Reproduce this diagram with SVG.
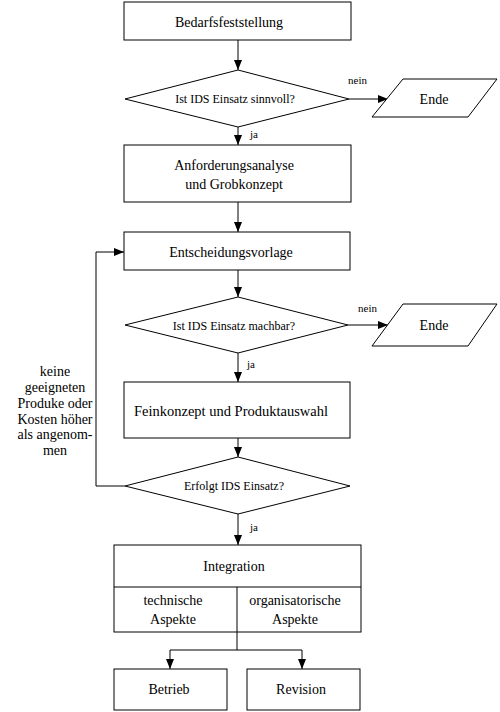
<svg xmlns="http://www.w3.org/2000/svg" width="500" height="712" viewBox="0 0 500 712">
<defs>
<marker id="arr" markerUnits="userSpaceOnUse" markerWidth="10" markerHeight="8" refX="10" refY="4" orient="auto">
<path d="M0,0 L10,4 L0,8 z" fill="#000"/>
</marker>
</defs>
<style>
.s{fill:#fff;stroke:#000;stroke-width:1}
text{font-family:'Liberation Serif','DejaVu Serif',serif;fill:#000}
.t{font-size:14px;text-anchor:middle}
.d{font-size:12px;text-anchor:middle}
.l{font-size:11px}
.c{fill:none;stroke:#000;stroke-width:1;marker-end:url(#arr)}
.n{fill:none;stroke:#000;stroke-width:1}
</style>
<rect width="500" height="712" fill="#fff"/>
<g id="connectors">
<line class="c" x1="238" y1="40" x2="238" y2="70"/>
<line class="c" x1="349" y1="99" x2="388" y2="99"/>
<line class="c" x1="238" y1="127" x2="238" y2="145"/>
<line class="c" x1="238" y1="202" x2="238" y2="232"/>
<line class="c" x1="238" y1="270" x2="238" y2="297"/>
<line class="c" x1="348" y1="325" x2="388" y2="325"/>
<line class="c" x1="238" y1="353" x2="238" y2="382"/>
<line class="c" x1="238" y1="438" x2="238" y2="457"/>
<polyline class="c" points="125,486 96,486 96,252 124,252"/>
<line class="c" x1="238" y1="514" x2="238" y2="545"/>
<polyline class="n" points="237,632 237,650"/>
<polyline class="n" points="170,650 302,650"/>
<line class="c" x1="170" y1="650" x2="170" y2="669"/>
<line class="c" x1="302" y1="650" x2="302" y2="669"/>
<text class="l" x="348" y="84" font-family="Liberation Serif, serif">nein</text>
<text class="l" x="250" y="138" font-family="Liberation Serif, serif">ja</text>
<text class="l" x="358" y="312" font-family="Liberation Serif, serif">nein</text>
<text class="l" x="247" y="368" font-family="Liberation Serif, serif">ja</text>
<text class="l" x="250" y="531" font-family="Liberation Serif, serif">ja</text>
<text class="t" x="55" y="376">keine</text>
<text class="t" x="55" y="392">geeigneten</text>
<text class="t" x="55" y="408">Produke oder</text>
<text class="t" x="55" y="424">Kosten höher</text>
<text class="t" x="55" y="439">als angenom-</text>
<text class="t" x="55" y="455">men</text>
</g>
<g id="bedarf">
<rect class="s" x="124" y="2" width="227" height="38"/>
<text class="t" x="229" y="27">Bedarfsfeststellung</text>
</g>
<g id="sinnvoll">
<polygon class="s" points="125,99 238,70 349,99 238,127"/>
<text class="d" x="235" y="103">Ist IDS Einsatz sinnvoll?</text>
</g>
<g id="ende1">
<polygon class="s" points="403,79 497,79 468,117 372,117"/>
<text class="t" x="434" y="104">Ende</text>
</g>
<g id="anforderung">
<rect class="s" x="124" y="145" width="227" height="57"/>
<text class="t" x="234" y="170">Anforderungsanalyse</text>
<text class="t" x="234" y="189">und Grobkonzept</text>
</g>
<g id="entscheidung">
<rect class="s" x="124" y="232" width="226" height="38"/>
<text class="t" x="231" y="257">Entscheidungsvorlage</text>
</g>
<g id="machbar">
<polygon class="s" points="125,325 238,297 348,325 238,353"/>
<text class="d" x="234" y="330">Ist IDS Einsatz machbar?</text>
</g>
<g id="ende2">
<polygon class="s" points="403,304 497,304 468,346 372,346"/>
<text class="t" x="434" y="330">Ende</text>
</g>
<g id="feinkonzept">
<rect class="s" x="124" y="382" width="226" height="56"/>
<text class="t" x="231" y="416" style="font-size:14.5px">Feinkonzept und Produktauswahl</text>
</g>
<g id="erfolgt">
<polygon class="s" points="125,486 238,457 350,486 238,514"/>
<text class="d" x="234" y="490">Erfolgt IDS Einsatz?</text>
</g>
<g id="integration">
<rect class="s" x="114" y="545" width="247" height="87"/>
<line class="n" x1="114" y1="587" x2="361" y2="587"/>
<line class="n" x1="237" y1="587" x2="237" y2="632"/>
<text class="t" x="234" y="571">Integration</text>
<text class="t" x="173" y="605">technische</text>
<text class="t" x="173" y="624">Aspekte</text>
<text class="t" x="295" y="605">organisatorische</text>
<text class="t" x="295" y="624">Aspekte</text>
</g>
<g id="betrieb">
<rect class="s" x="114" y="669" width="113" height="41"/>
<text class="t" x="169" y="694">Betrieb</text>
</g>
<g id="revision">
<rect class="s" x="247" y="669" width="113" height="41"/>
<text class="t" x="301" y="694">Revision</text>
</g>
</svg>
